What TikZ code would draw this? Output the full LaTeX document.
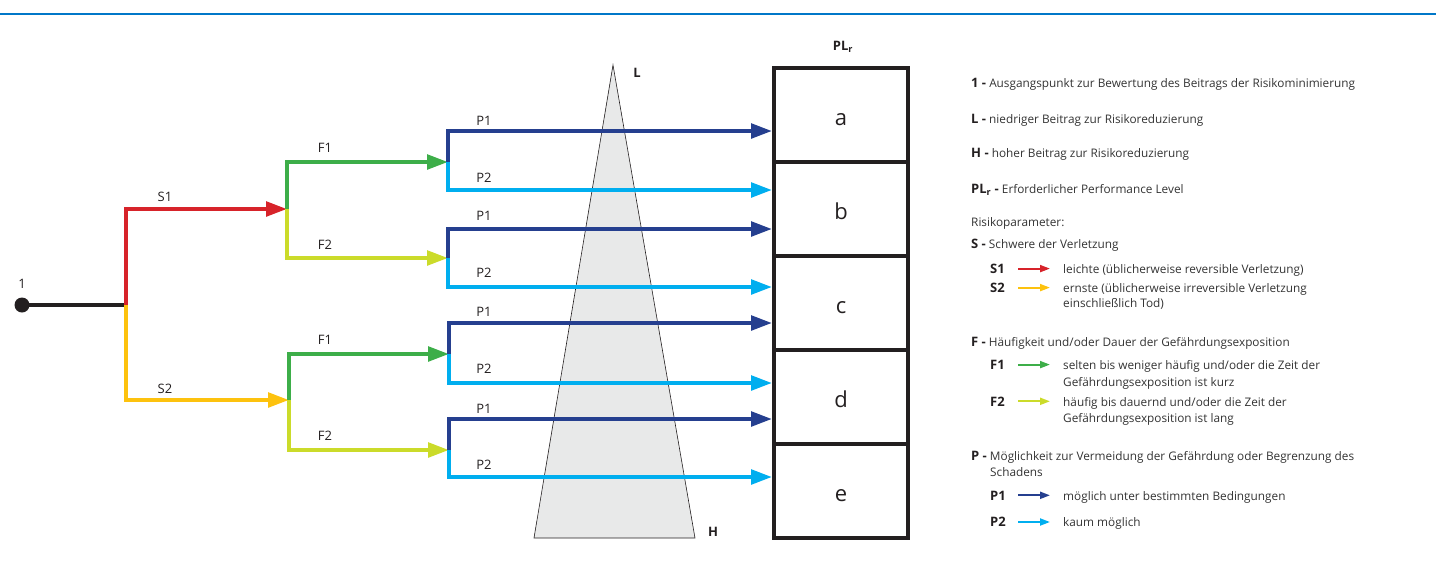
\documentclass[tikz,border=0pt]{standalone}
\usepackage{fontspec}
\setmainfont{Open Sans}
\usetikzlibrary{arrows.meta}
\definecolor{cRed}{HTML}{D7232A}
\definecolor{cYel}{HTML}{FDC20E}
\definecolor{cGrn}{HTML}{3DAE49}
\definecolor{cYg}{HTML}{CBDB2A}
\definecolor{cDb}{HTML}{253F8F}
\definecolor{cLb}{HTML}{00AEEF}
\definecolor{cBlk}{HTML}{231F20}
\definecolor{cTop}{HTML}{0077C8}
\definecolor{cTri}{HTML}{E8E9E9}
\definecolor{cTxt}{HTML}{333333}
\newcommand{\kb}[1]{{\bfseries\fontsize{13}{15}\selectfont\color{cBlk}#1}}
\begin{document}
\begin{tikzpicture}[x=1pt,y=-1pt,
  flow/.style={line width=4pt, line join=miter, -{Triangle[length=21pt,width=14.5pt]}},
  plainline/.style={line width=4pt},
  lab/.style={font=\fontsize{13}{15}\selectfont, text=cBlk, inner sep=0pt},
  blab/.style={font=\bfseries\fontsize{13}{15}\selectfont, text=cBlk, inner sep=0pt},
  plbox/.style={draw=cBlk, line width=4pt, minimum width=134pt, minimum height=94pt, inner sep=0pt, font=\fontsize{22}{26}\selectfont, text=cBlk, text height=21pt, text depth=0pt},
  leg/.style={anchor=base west, inner sep=0pt, font=\fontsize{11.8}{14}\selectfont, text=cTxt},
  key/.style={anchor=base west, inner sep=0pt, font=\bfseries\fontsize{13}{15}\selectfont, text=cBlk},
  legarrow/.style={line width=2pt, -{Triangle[length=10pt,width=7pt]}}
]
\useasboundingbox (0,0) rectangle (1436,563);
% top rule
\draw[draw=cTop, line width=1.6pt] (0,14) -- (1436,14);

% triangle L -> H
\draw[fill=cTri, draw=cBlk, line width=0.6pt] (613,65) -- (695,538) -- (534,538) -- cycle;
\node[blab] (L) at (637,73) {L};
\node[blab] (H) at (713,532) {H};

% PLr boxes
\node[blab] (PL) at (843,47) {PL\textsubscript{r}};
\node[plbox] (ba) at (841,114.5) {a};
\node[plbox] (bb) at (841,208.5) {b};
\node[plbox] (bc) at (841,302.5) {c};
\node[plbox] (bd) at (841,396.5) {d};
\node[plbox] (be) at (841,490.5) {e};

% start
\node[circle, fill=cBlk, minimum size=15pt, inner sep=0pt] (start) at (22,305) {};
\node[lab] (one) at (22,284) {1};
\coordinate (s) at (126,305);
\coordinate (sA) at (287,209);
\coordinate (sB) at (289,400);
\draw[plainline, cBlk] (start.center) -- (s);
\draw[flow, cRed] (s) |- (sA);
\draw[flow, cYel] (s) |- (sB);
\node[lab] (S1) at (165,197) {S1};
\node[lab] (S2) at (165,388.5) {S2};

% F branches
\coordinate (f1) at (448,162);
\coordinate (f2) at (448,258);
\coordinate (f3) at (449,354);
\coordinate (f4) at (449,450);
\draw[flow, cGrn] (sA) |- (f1);
\draw[flow, cYg] (sA) |- (f2);
\draw[flow, cGrn] (sB) |- (f3);
\draw[flow, cYg] (sB) |- (f4);
\node[lab] (F1a) at (325,148) {F1};
\node[lab] (F2a) at (325,245) {F2};
\node[lab] (F1b) at (325,340) {F1};
\node[lab] (F2b) at (325,435.5) {F2};

% P branches
\coordinate (t1) at (772,131);
\coordinate (t2) at (772,190);
\coordinate (t3) at (772,229);
\coordinate (t4) at (772,287);
\coordinate (t5) at (772,323);
\coordinate (t6) at (772,383);
\coordinate (t7) at (772,419);
\coordinate (t8) at (772,477);
\draw[flow, cDb] (f1) |- (t1);
\draw[flow, cLb] (f1) |- (t2);
\draw[flow, cDb] (f2) |- (t3);
\draw[flow, cLb] (f2) |- (t4);
\draw[flow, cDb] (f3) |- (t5);
\draw[flow, cLb] (f3) |- (t6);
\draw[flow, cDb] (f4) |- (t7);
\draw[flow, cLb] (f4) |- (t8);
\node[lab] (P1a) at (484,120.5) {P1};
\node[lab] (P2a) at (484,177.5) {P2};
\node[lab] (P1b) at (484,215.5) {P1};
\node[lab] (P2b) at (484,272.5) {P2};
\node[lab] (P1c) at (484,311.5) {P1};
\node[lab] (P2c) at (484,369) {P2};
\node[lab] (P1d) at (484,408.5) {P1};
\node[lab] (P2d) at (484,465) {P2};

% legend
\node[leg] (g1) at (971,87.3) {\kb{1 -} Ausgangspunkt zur Bewertung des Beitrags der Risikominimierung};
\node[leg] (gL) at (971,123.3) {\kb{L -} niedriger Beitrag zur Risikoreduzierung};
\node[leg] (gH) at (971,157.7) {\kb{H -} hoher Beitrag zur Risikoreduzierung};
\node[leg] (gPL) at (971,193.3) {\kb{PL\textsubscript{r} -} Erforderlicher Performance Level};
\node[leg] (gR) at (971,226.7) {Risikoparameter:};
\node[leg] (gS) at (971,248.7) {\kb{S -} Schwere der Verletzung};

\node[key] (kS1) at (990,273.3) {S1};
\node[key] (kS2) at (990,292.3) {S2};
\coordinate (aS1a) at (1018,268.6); \coordinate (aS1b) at (1050,268.6);
\coordinate (aS2a) at (1018,287.6); \coordinate (aS2b) at (1050,287.6);
\draw[legarrow, cRed] (aS1a) -- (aS1b);
\draw[legarrow, cYel] (aS2a) -- (aS2b);
\node[leg] (tS1) at (1063,273.3) {leichte (üblicherweise reversible Verletzung)};
\node[leg] (tS2) at (1063,292.3) {ernste (üblicherweise irreversible Verletzung};
\node[leg] (tS2b) at (1063,307.3) {einschließlich Tod)};

\node[leg] (gF) at (971,346.7) {\kb{F -} Häufigkeit und/oder Dauer der Gefährdungsexposition};
\node[key] (kF1) at (990,369.3) {F1};
\node[key] (kF2) at (990,406) {F2};
\coordinate (aF1a) at (1018,364.6); \coordinate (aF1b) at (1050,364.6);
\coordinate (aF2a) at (1018,401.3); \coordinate (aF2b) at (1050,401.3);
\draw[legarrow, cGrn] (aF1a) -- (aF1b);
\draw[legarrow, cYg] (aF2a) -- (aF2b);
\node[leg] (tF1) at (1063,369.3) {selten bis weniger häufig und/oder die Zeit der};
\node[leg] (tF1b) at (1063,386) {Gefährdungsexposition ist kurz};
\node[leg] (tF2) at (1063,406) {häufig bis dauernd und/oder die Zeit der};
\node[leg] (tF2b) at (1063,422) {Gefährdungsexposition ist lang};

\node[leg] (gP) at (971,460.7) {\kb{P -} Möglichkeit zur Vermeidung der Gefährdung oder Begrenzung des};
\node[leg] (gPb) at (990,476.7) {Schadens};
\node[key] (kP1) at (990,500) {P1};
\node[key] (kP2) at (990,526.7) {P2};
\coordinate (aP1a) at (1018,495.3); \coordinate (aP1b) at (1050,495.3);
\coordinate (aP2a) at (1018,522); \coordinate (aP2b) at (1050,522);
\draw[legarrow, cDb] (aP1a) -- (aP1b);
\draw[legarrow, cLb] (aP2a) -- (aP2b);
\node[leg] (tP1) at (1063,500) {möglich unter bestimmten Bedingungen};
\node[leg] (tP2) at (1063,526.7) {kaum möglich};
\end{tikzpicture}
\end{document}
